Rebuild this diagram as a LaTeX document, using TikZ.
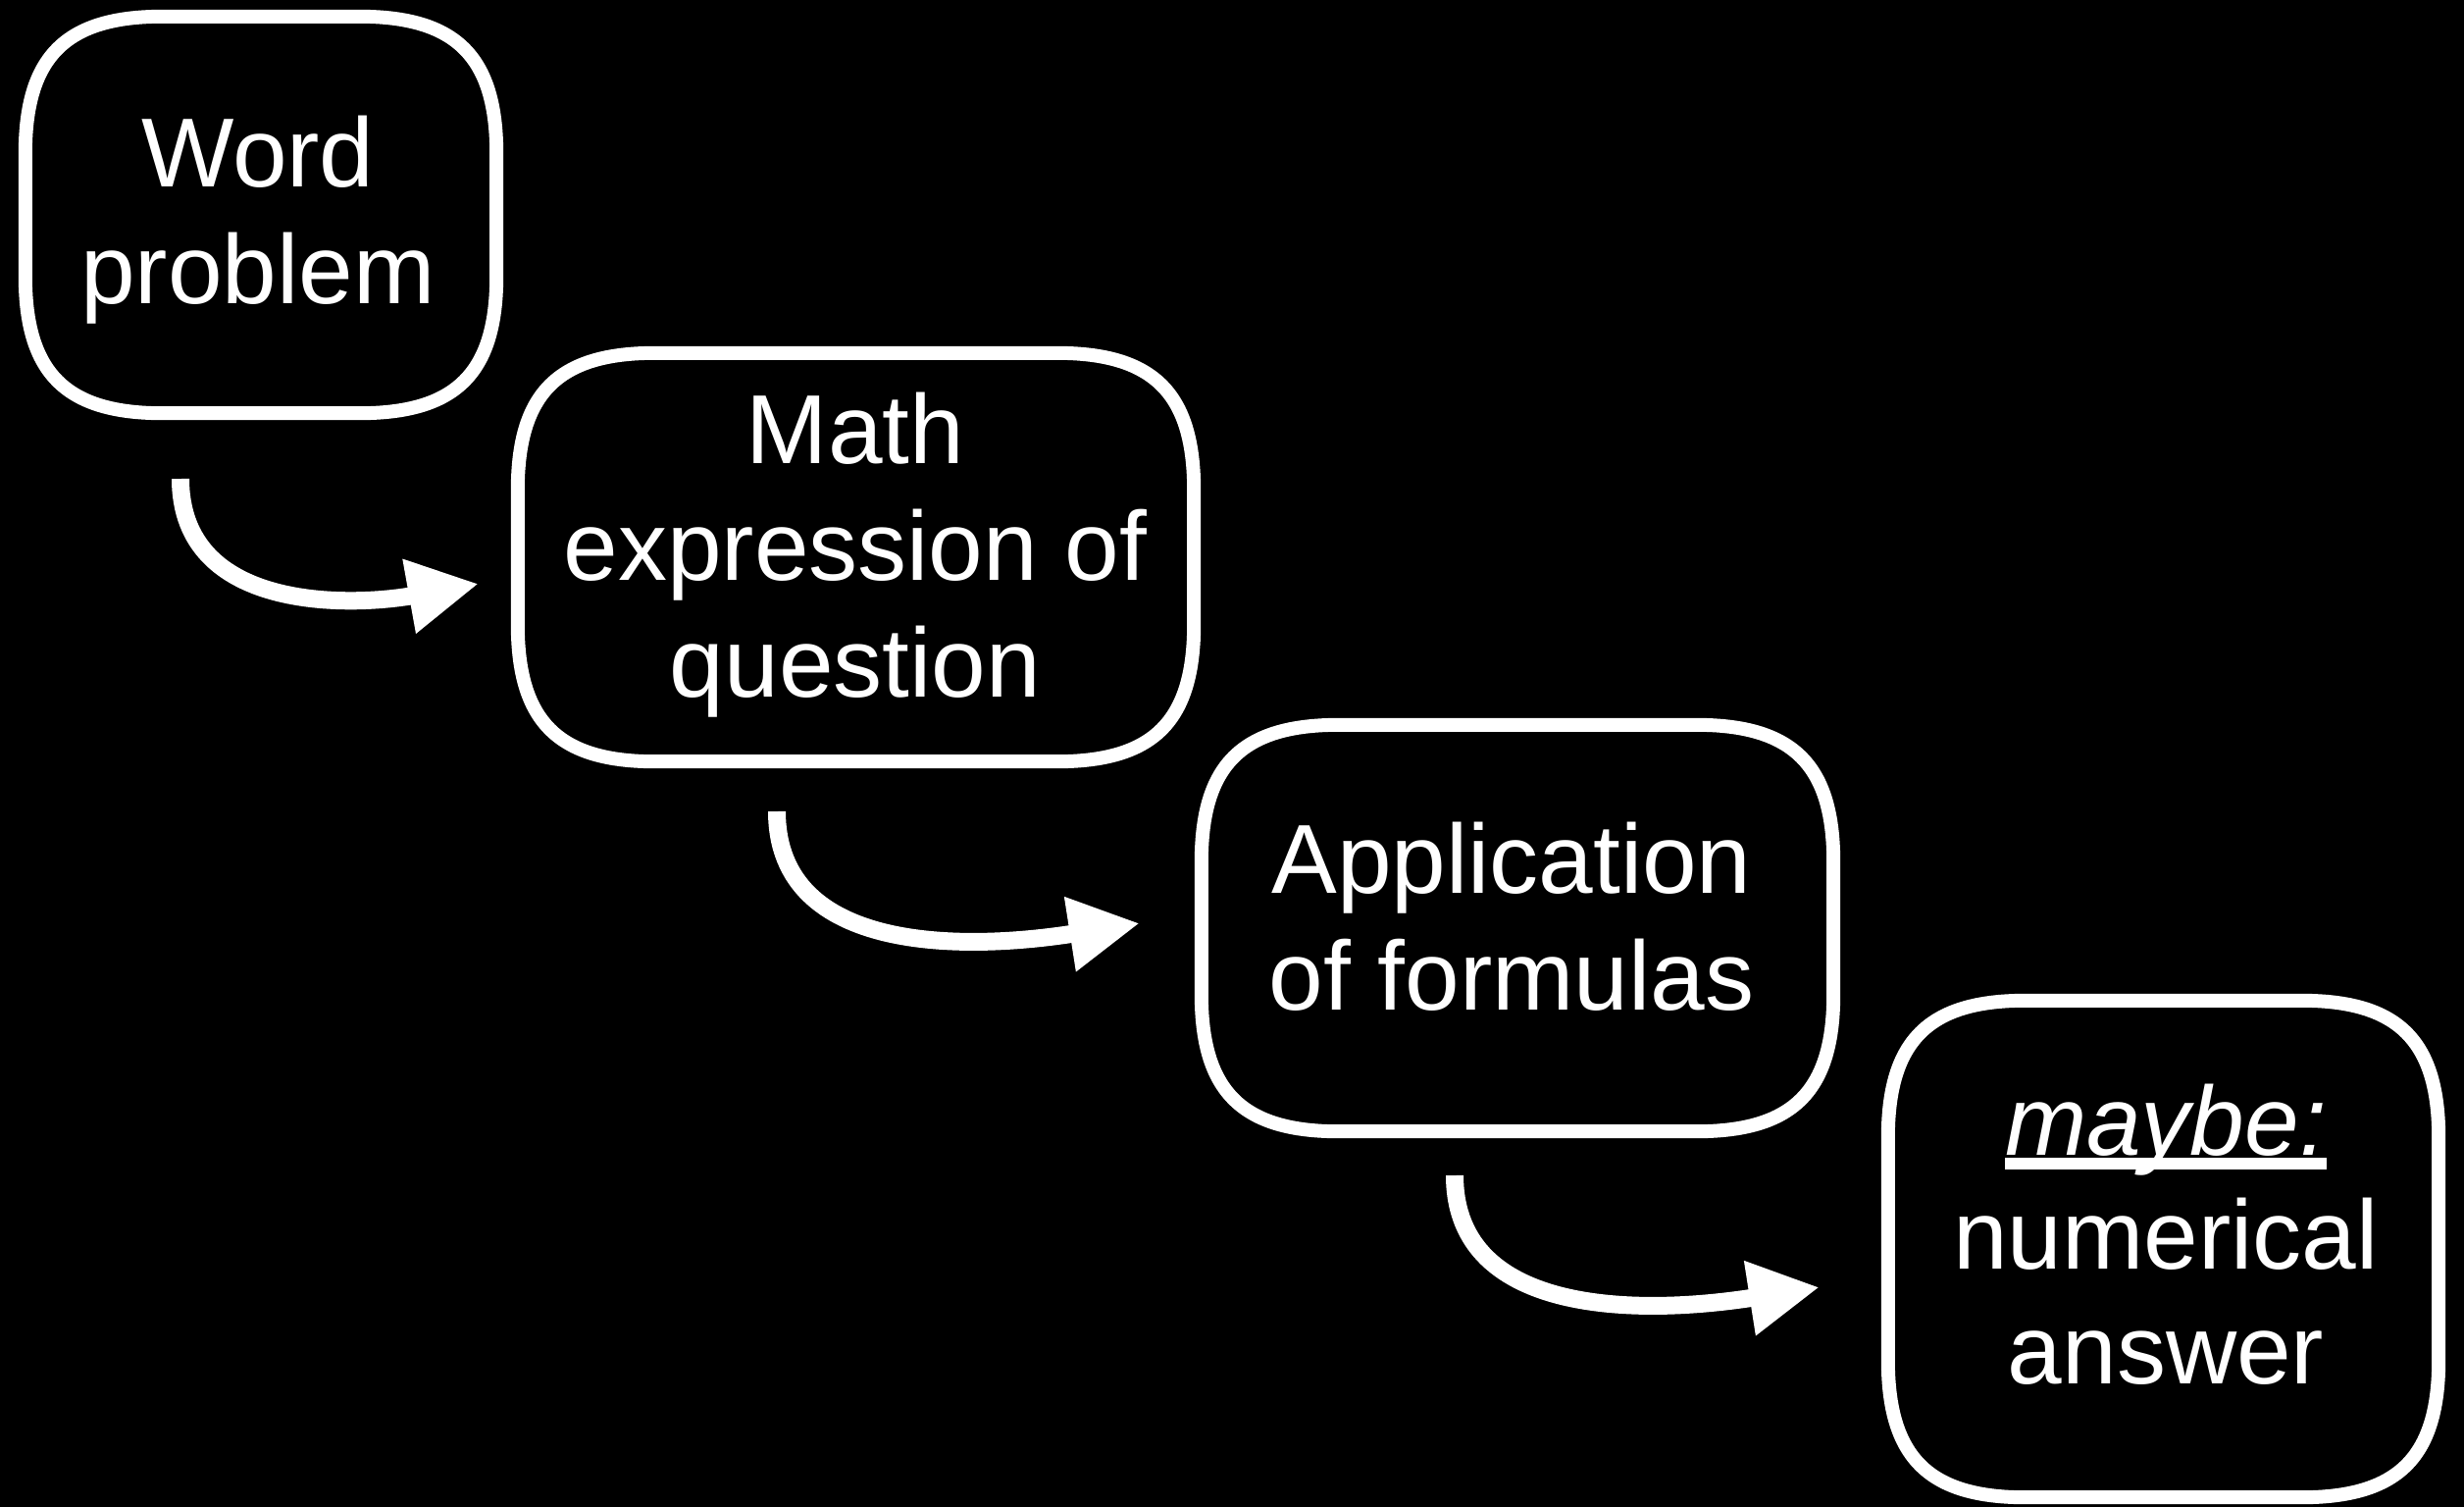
\documentclass[tikz,border=0pt]{standalone}
\usepackage{fontspec}
\setmainfont{Liberation Sans}
\usetikzlibrary{arrows.meta,calc}
\newcommand\ulword[1]{\setbox0\hbox{#1}\rlap{\rule[-15pt]{\wd0}{12pt}}\box0}
\newcommand\sqRad{140}
\newcommand\sqCtl{41}
\newcommand\sqbox[1]{%
  \draw[sqline] ($(#1.north west)+(0,\sqRad)$)
    .. controls ($(#1.north west)+(0,\sqCtl)$) and ($(#1.north west)+(\sqCtl,0)$) .. ($(#1.north west)+(\sqRad,0)$)
    -- ($(#1.north east)+(-\sqRad,0)$)
    .. controls ($(#1.north east)+(-\sqCtl,0)$) and ($(#1.north east)+(0,\sqCtl)$) .. ($(#1.north east)+(0,\sqRad)$)
    -- ($(#1.south east)+(0,-\sqRad)$)
    .. controls ($(#1.south east)+(0,-\sqCtl)$) and ($(#1.south east)+(-\sqCtl,0)$) .. ($(#1.south east)+(-\sqRad,0)$)
    -- ($(#1.south west)+(\sqRad,0)$)
    .. controls ($(#1.south west)+(\sqCtl,0)$) and ($(#1.south west)+(0,-\sqCtl)$) .. ($(#1.south west)+(0,-\sqRad)$)
    -- cycle;}
\begin{document}
\begin{tikzpicture}[x=1pt,y=-1pt,
  box/.style={inner sep=0pt},
  sqline/.style={draw=white, fill=black, line width=14pt, line join=round},
  lbl/.style={text=white, anchor=base, inner sep=0pt, font=\fontsize{100}{119}\selectfont},
  lblb/.style={lbl, font=\fontsize{100}{116.5}\selectfont},
  flow/.style={draw=white, line width=18pt, -{Triangle[length=72pt,width=72pt]}}]
\useasboundingbox (0,0) rectangle (2512,1535);
\fill[black, overlay] (-20,-20) rectangle (2532,1555);

\node[box, minimum width=480pt, minimum height=404pt] (b1) at (266,219) {};
\node[box, minimum width=689pt, minimum height=416pt] (b2) at (872.5,568) {};
\node[box, minimum width=644pt, minimum height=414pt] (b3) at (1547,946) {};
\node[box, minimum width=561pt, minimum height=506pt] (b4) at (2205.5,1273) {};
\sqbox{b1}
\sqbox{b2}
\sqbox{b3}
\sqbox{b4}

\node[lbl] (t1) at (263,190) {\begin{tabular}[t]{@{}c@{}}Word\\problem\end{tabular}};
\node[lbl] (t2) at (872,472) {\begin{tabular}[t]{@{}c@{}}Math\\expression of\\question\end{tabular}};
\node[lbl] (t3) at (1541,910) {\begin{tabular}[t]{@{}c@{}}Application\\of formulas\end{tabular}};
\node[lblb] (t4) at (2208,1177) {\begin{tabular}[t]{@{}c@{}}\ulword{\itshape maybe:}\\numerical\\answer\end{tabular}};

\coordinate (a1s) at (184,488);
\coordinate (a1e) at (488,595);
\coordinate (a2s) at (792,827);
\coordinate (a2e) at (1162,941);
\coordinate (a3s) at (1483,1198);
\coordinate (a3e) at (1855,1312);

\draw[flow] (a1s) .. controls +(0,137) and +(-128,23) .. (a1e);
\draw[flow] (a2s) .. controls +(0,148) and +(-172,27) .. (a2e);
\draw[flow] (a3s) .. controls +(0,148) and +(-172,27) .. (a3e);
\end{tikzpicture}
\end{document}
